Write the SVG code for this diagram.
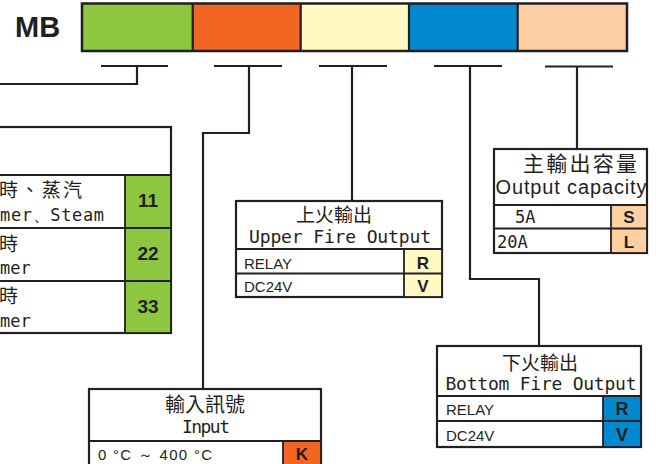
<svg xmlns="http://www.w3.org/2000/svg" width="656" height="464" viewBox="0 0 656 464">
<style>
.ln{fill:none;stroke:#231f20;stroke-width:2.2}
.bx{fill:#fff;stroke:#231f20;stroke-width:2.2}
.rw{fill:none;stroke:#231f20;stroke-width:1.8}
.cjk{font-family:"Noto Sans CJK TC","Noto Sans CJK SC",sans-serif;fill:#231f20}
.mono{font-family:"DejaVu Sans Mono","Liberation Mono",monospace;fill:#231f20}
.sans{font-family:"Liberation Sans",Arial,sans-serif;fill:#231f20}
.code{font-family:"Liberation Sans",Arial,sans-serif;font-weight:bold;fill:#231f20;text-anchor:middle}
</style>
<g id="title"><text x="15" y="37" class="sans" font-weight="bold" font-size="29">MB</text></g>
<g id="codebar">
<rect x="82" y="3.5" width="110.7" height="47.5" fill="#8dc63f"/>
<rect x="192.7" y="3.5" width="108" height="47.5" fill="#f26522"/>
<rect x="300.7" y="3.5" width="108.3" height="47.5" fill="#fff9c4"/>
<rect x="409" y="3.5" width="108.7" height="47.5" fill="#0089d1"/>
<rect x="517.7" y="3.5" width="109.3" height="47.5" fill="#fdd0a4"/>
<rect x="82" y="3.5" width="545" height="47.5" fill="none" stroke="#231f20" stroke-width="2.5"/>
<path d="M192.7 3.5V51M300.7 3.5V51M409 3.5V51M517.7 3.5V51" stroke="#231f20" stroke-width="2.2"/>
</g>
<g id="connectors">
<path class="ln" d="M101 66H168M137 66V84H0"/>
<path class="ln" d="M214 66H282M249 66V133H203V389"/>
<path class="ln" d="M319 66H387M352 66V201"/>
<path class="ln" d="M434 66H502M470 66V279H539V346"/>
<path class="ln" d="M545 66.5H613M577 66.5V149"/>
</g>
<g id="node-type">
<rect class="bx" x="-3" y="127" width="174" height="206"/>
<rect x="125" y="175" width="46" height="158" fill="#8dc63f" stroke="#231f20" stroke-width="1.8"/>
<path class="rw" d="M-3 175H171M-3 228H171M-3 281H171"/>
<text x="-1" y="197" class="cjk" font-size="19" textLength="83">時、蒸汽</text>
<text x="0" y="221" class="mono" font-size="17" textLength="104">mer、Steam</text>
<text x="-1" y="251" class="cjk" font-size="19">時</text>
<text x="0" y="274" class="mono" font-size="17">mer</text>
<text x="-1" y="303" class="cjk" font-size="19">時</text>
<text x="0" y="327" class="mono" font-size="17">mer</text>
<text x="148" y="207" class="code" font-size="19">11</text>
<text x="148" y="260" class="code" font-size="19">22</text>
<text x="148" y="313" class="code" font-size="19">33</text>
</g>
<g id="node-upper">
<rect class="bx" x="236" y="201" width="206" height="96"/>
<rect x="404" y="249" width="38" height="48" fill="#fff9c4" stroke="#231f20" stroke-width="1.8"/>
<path class="rw" d="M236 249H442M236 273.5H442"/>
<text x="334" y="222" class="cjk" font-size="19" text-anchor="middle">上火輸出</text>
<text x="340" y="243" class="mono" font-size="18" text-anchor="middle" textLength="182">Upper Fire Output</text>
<text x="244" y="268.5" class="sans" font-size="15">RELAY</text>
<text x="244" y="292" class="sans" font-size="15">DC24V</text>
<text x="423" y="268.5" class="code" font-size="17">R</text>
<text x="423" y="292" class="code" font-size="17">V</text>
</g>
<g id="node-capacity">
<rect class="bx" x="494" y="149" width="153" height="104"/>
<rect x="611" y="205" width="36" height="48" fill="#fdd0a4" stroke="#231f20" stroke-width="1.8"/>
<path class="rw" d="M494 205H647M494 228.5H647"/>
<text x="580" y="171" class="cjk" font-size="21" text-anchor="middle" textLength="114">主輸出容量</text>
<text x="571" y="194" class="sans" font-size="20" text-anchor="middle" textLength="151">Output capacity</text>
<text x="515" y="222.5" class="mono" font-size="17">5A</text>
<text x="497" y="248" class="mono" font-size="17">20A</text>
<text x="629" y="222.5" class="code" font-size="17">S</text>
<text x="629" y="248" class="code" font-size="17">L</text>
</g>
<g id="node-bottom">
<rect class="bx" x="437" y="346" width="204" height="101"/>
<rect x="603" y="396" width="38" height="51" fill="#0089d1" stroke="#231f20" stroke-width="1.8"/>
<path class="rw" d="M437 396H641M437 421H641"/>
<text x="540" y="370" class="cjk" font-size="19" text-anchor="middle">下火輸出</text>
<text x="541" y="390" class="mono" font-size="18" text-anchor="middle" textLength="191">Bottom Fire Output</text>
<text x="446" y="415" class="sans" font-size="15">RELAY</text>
<text x="446" y="441" class="sans" font-size="15">DC24V</text>
<text x="622" y="415" class="code" font-size="18">R</text>
<text x="622" y="441" class="code" font-size="18">V</text>
</g>
<g id="node-input">
<rect class="bx" x="89" y="389" width="232" height="85"/>
<rect x="283" y="441" width="38" height="33" fill="#f26522" stroke="#231f20" stroke-width="1.8"/>
<path class="rw" d="M89 441H321"/>
<text x="205" y="412" class="cjk" font-size="20" text-anchor="middle">輸入訊號</text>
<text x="206" y="433" class="mono" font-size="18" text-anchor="middle" textLength="48">Input</text>
<text x="98" y="460" class="sans" font-size="15" textLength="114">0 °C ～ 400 °C</text>
<text x="302" y="460" class="code" font-size="17">K</text>
</g>
</svg>
